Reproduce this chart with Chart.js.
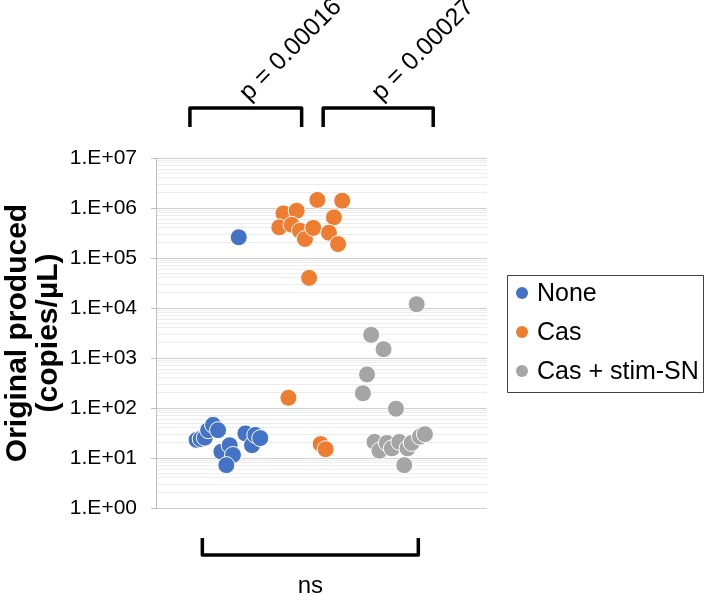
<!DOCTYPE html>
<html>
<head>
<meta charset="utf-8">
<script src="https://cdn.jsdelivr.net/npm/chart.js@4"></script>
<style>
  html, body { margin: 0; padding: 0; background: #fff; }
  #wrap { width: 708px; height: 595px; }
</style>
</head>
<body>
<div id="wrap"><canvas id="chart" width="708" height="595"></canvas></div>
<script>
// ================= DATA =================
const seriesNames = ["None", "Cas", "Cas + stim-SN"];
const seriesColors = ["#4472C4", "#ED7D31", "#A5A5A5"];

// jittered x position inside each group, y = copies/uL
const noneX = [0.49, 0.54, 0.59, 0.63, 0.69, 0.75, 0.79, 0.89, 0.93, 0.85, 1.08, 1.16, 1.20, 1.26, 1.00];
const noneY = [23, 24, 25.5, 36, 46, 36, 13.4, 18, 11.5, 7.2, 31, 18, 29, 25, 260000];

const casX = [1.95, 2.25, 1.54, 1.70, 1.49, 1.64, 1.74, 1.80, 1.90, 2.15, 2.09, 2.20, 1.85, 1.60, 1.99, 2.05];
const casY = [1450000, 1400000, 780000, 880000, 410000, 460000, 350000, 240000, 400000, 650000, 320000, 190000, 40000, 160, 19, 15];

const stimX = [3.15, 2.60, 2.75, 2.55, 2.50, 2.90, 2.64, 2.70, 2.79, 2.85, 2.94, 3.04, 3.09, 3.19, 3.25, 3.00];
const stimY = [11900, 2900, 1500, 470, 197, 97, 21, 14, 20, 15.6, 21, 15.6, 20, 26.7, 30, 7.2];

const yTickLabels = ["1.E+00", "1.E+01", "1.E+02", "1.E+03", "1.E+04", "1.E+05", "1.E+06", "1.E+07"];

// comparisons: [from x, to x, label, where]
const brackets = [
  { from: 0.41, to: 1.76, label: "p = 0.00016", side: "top" },
  { from: 2.02, to: 3.35, label: "p = 0.00027", side: "top" },
  { from: 0.56, to: 3.17, label: "ns", side: "bottom" }
];

// ================= HELPERS =================
function zip(xs, ys) {
  return xs.map((x, i) => ({ x: x, y: ys[i] }));
}

function isDecade(v) {
  const e = Math.log10(v);
  return Math.abs(e - Math.round(e)) < 1e-9;
}

// ================= PLUGIN: brackets + legend =================
const extras = {
  id: "extras",
  afterDraw(c) {
    const ctx = c.ctx;
    const xs = c.scales.x;
    const area = c.chartArea;
    ctx.save();

    // brackets
    ctx.strokeStyle = "#000";
    ctx.lineWidth = 3.5;
    ctx.lineJoin = "round";
    brackets.forEach(b => {
      const x1 = xs.getPixelForValue(b.from);
      const x2 = xs.getPixelForValue(b.to);
      let yLine, yEnd;
      if (b.side === "top") { yLine = area.top - 50; yEnd = area.top - 31; }
      else { yLine = area.bottom + 47; yEnd = area.bottom + 30; }
      ctx.beginPath();
      ctx.moveTo(x1, yEnd);
      ctx.lineTo(x1, yLine);
      ctx.lineTo(x2, yLine);
      ctx.lineTo(x2, yEnd);
      ctx.stroke();

      ctx.fillStyle = "#000";
      ctx.textAlign = "center";
      ctx.textBaseline = "middle";
      const cx = (x1 + x2) / 2;
      if (b.side === "top") {
        ctx.font = "25px 'Liberation Sans', Arial, sans-serif";
        ctx.save();
        ctx.translate(cx + 45, yLine - 58);
        ctx.rotate(-Math.PI / 4);
        ctx.fillText(b.label, 0, 0);
        ctx.restore();
      } else {
        ctx.font = "24px 'Liberation Sans', Arial, sans-serif";
        ctx.fillText(b.label, cx, yLine + 31);
      }
    });

    // legend box
    const lx = 507, ly = 275, lw = 196, lh = 117;
    ctx.strokeStyle = "#404040";
    ctx.lineWidth = 1;
    ctx.strokeRect(lx + 0.5, ly + 0.5, lw, lh);
    ctx.font = "25px 'Liberation Sans', Arial, sans-serif";
    ctx.textAlign = "left";
    ctx.textBaseline = "middle";
    seriesNames.forEach((name, i) => {
      const y = ly + 18 + i * 39;
      ctx.fillStyle = seriesColors[i];
      ctx.beginPath();
      ctx.arc(lx + 15, y, 6, 0, Math.PI * 2);
      ctx.fill();
      ctx.fillStyle = "#000";
      ctx.fillText(name, lx + 30, y + 1);
    });

    ctx.restore();
  }
};

// ================= CHART =================
Chart.defaults.font.family = "'Liberation Sans', Arial, sans-serif";

const datasets = [
  { label: seriesNames[0], data: zip(noneX, noneY) },
  { label: seriesNames[1], data: zip(casX, casY) },
  { label: seriesNames[2], data: zip(stimX, stimY) }
].map((d, i) => Object.assign(d, {
  backgroundColor: seriesColors[i],
  borderColor: "#ffffff",
  borderWidth: 1,
  pointRadius: 8.5,
  pointHoverRadius: 8.5,
  order: 3 - i
}));

new Chart(document.getElementById("chart"), {
  type: "scatter",
  data: { datasets },
  options: {
    responsive: false,
    animation: false,
    devicePixelRatio: 1,
    layout: { padding: { left: 0, top: 158, right: 221, bottom: 87 } },
    plugins: {
      legend: { display: false },
      tooltip: { enabled: false }
    },
    scales: {
      x: {
        type: "linear",
        min: 0,
        max: 4,
        display: false
      },
      y: {
        type: "logarithmic",
        min: 1,
        max: 10000000,
        afterBuildTicks(scale) {
          const t = [];
          for (let e = 0; e < 7; e++) {
            for (let m = 1; m <= 9; m++) t.push({ value: m * Math.pow(10, e) });
          }
          t.push({ value: 10000000 });
          scale.ticks = t;
        },
        afterFit(scale) { scale.width = 156; },
        ticks: {
          autoSkip: false,
          padding: 14,
          color: "#000",
          font: { size: 21 },
          callback: v => isDecade(v) ? yTickLabels[Math.round(Math.log10(v))] : ""
        },
        grid: {
          tickLength: 5,
          color: ctx => isDecade(ctx.tick.value) ? "#cfcfcf" : "#ececec",
          tickColor: ctx => isDecade(ctx.tick.value) ? "#bfbfbf" : "rgba(0,0,0,0)"
        },
        border: { display: true, color: "#bfbfbf" },
        title: {
          display: true,
          text: ["Original produced", "(copies/\u00B5L)"],
          color: "#000",
          font: { size: 30, weight: "bold", lineHeight: 1.03 },
          padding: { top: 2, bottom: 0 }
        }
      }
    }
  },
  plugins: [extras]
});
</script>
</body>
</html>
